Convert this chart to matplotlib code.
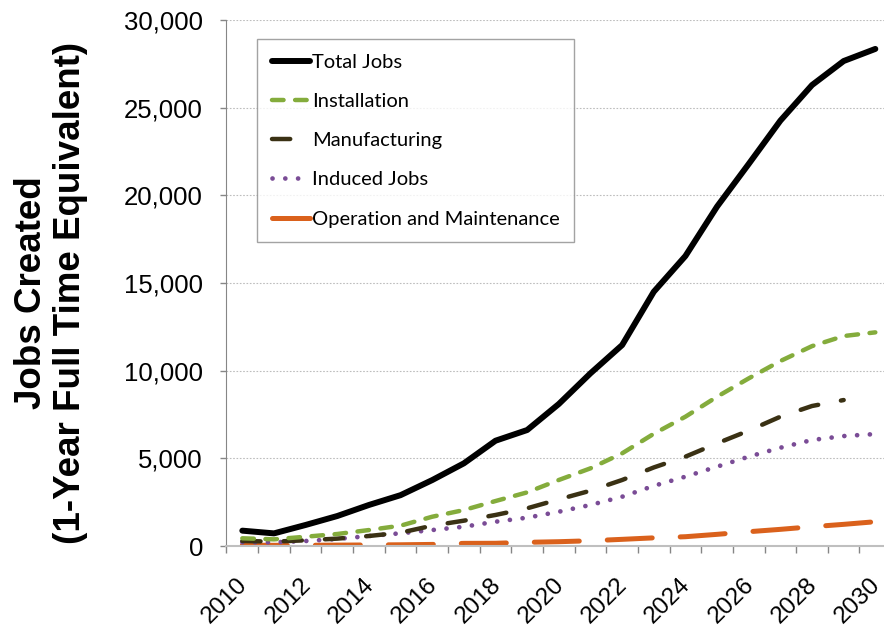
import matplotlib
matplotlib.use("Agg")
import matplotlib.pyplot as plt
import matplotlib.transforms as mtransforms
from matplotlib.ticker import FuncFormatter, FixedLocator
import numpy as np

years = list(range(2010, 2031))

total_jobs = [875, 720, 1200, 1710, 2340, 2900, 3760, 4715, 6005, 6615, 8100,
              9850, 11460, 14500, 16540, 19360, 21790, 24260, 26290, 27660, 28350]
installation = [440, 380, 530, 685, 910, 1160, 1670, 2050, 2565, 3060, 3765,
                4430, 5285, 6400, 7375, 8515, 9560, 10550, 11400, 11975, 12185]
# no manufacturing figure for 2030
manufacturing = [285, 250, 325, 420, 570, 760, 1160, 1445, 1770, 2150, 2660,
                 3155, 3765, 4480, 5095, 5855, 6580, 7375, 7985, 8325]
induced_jobs = [210, 210, 285, 400, 570, 725, 910, 1100, 1385, 1615, 1955,
                2340, 2810, 3430, 3955, 4525, 5095, 5605, 6045, 6270, 6385]
operation_maintenance = [40, 40, 40, 50, 60, 70, 90, 150, 155, 210, 245,
                         300, 380, 465, 530, 665, 815, 950, 1100, 1235, 1385]

series_names = ["Total Jobs", "Installation", "Manufacturing", "Induced Jobs",
                "Operation and Maintenance"]

fig = plt.figure(figsize=(8.84, 6.33), dpi=100)
W, H = 884, 633
left_px, right_px, top_px, bottom_px = 226.5, 226.5 + 21 * 31.65, 20, 546
ax = fig.add_axes([left_px / W, 1 - bottom_px / H,
                   (right_px - left_px) / W, (bottom_px - top_px) / H])

x = np.arange(len(years))

ax.plot(x, total_jobs, color="black", lw=4.3, solid_capstyle="round",
        solid_joinstyle="round", label=series_names[0], zorder=5)
ax.plot(x, installation, color="#84AC3C", lw=3.2, dashes=(2.6, 2.6),
        dash_capstyle="round", label=series_names[1], zorder=4)
ax.plot(x[:len(manufacturing)], manufacturing, color="#3A3114", lw=3.2,
        dashes=(4.1, 5.2), dash_capstyle="round", label=series_names[2], zorder=3)
ax.plot(x, induced_jobs, color="#7A4C96", lw=3.4, dashes=(0.01, 2.7),
        dash_capstyle="round", label=series_names[3], zorder=2)
ax.plot(x, operation_maintenance, color="#DA611C", lw=3.6, dashes=(9, 5.6),
        dash_capstyle="round", label=series_names[4], zorder=1)

ax.set_xlim(-0.5, len(years) - 0.5)
ax.set_ylim(0, 30000)
ax.set_yticks(np.arange(0, 30001, 5000))
ax.yaxis.set_major_formatter(FuncFormatter(lambda v, p: "{:,.0f}".format(v)))
ax.yaxis.grid(True, color="#BDBDBD", linestyle=(0, (1.5, 1.5)), lw=0.8)
ax.set_axisbelow(True)

# category boundaries get tick marks, even years get labels
ax.xaxis.set_major_locator(FixedLocator(x[::2]))
ax.xaxis.set_minor_locator(FixedLocator(np.arange(-0.5, len(years), 1.0)))
ax.set_xticklabels([str(y) for y in years[::2]], rotation=45, ha="right",
                   va="top", rotation_mode="anchor",
                   fontsize=17.5, family="Liberation Sans")
ax.tick_params(axis="x", which="major", length=0, pad=19)
ax.tick_params(axis="x", which="minor", length=5, color="#868686", width=1)
ax.tick_params(axis="y", length=4, color="#868686", width=1, pad=13,
               labelsize=18.5)
for lab in ax.get_yticklabels():
    lab.set_family("Liberation Sans")

# nudge the rotated year labels left so they end under their category
shift = mtransforms.ScaledTranslation(-6 / 100, -1 / 100, fig.dpi_scale_trans)
for lab in ax.get_xticklabels():
    lab.set_transform(lab.get_transform() + shift)

for side in ["top", "right"]:
    ax.spines[side].set_visible(False)
ax.spines["left"].set_color("#868686")
ax.spines["bottom"].set_color("#BFBFBF")
ax.spines["bottom"].set_linewidth(1.5)

fig.text(51 / W, 0.538, "Jobs Created\n(1-Year Full Time Equivalent)",
         rotation=90, ha="center", va="center", fontsize=26.5,
         fontweight="bold", family="Liberation Sans", linespacing=1.15)

leg = ax.legend(loc="upper left", bbox_to_anchor=((257 - left_px) / (right_px - left_px),
                                                  (bottom_px - 39) / (bottom_px - top_px)),
                prop={"family": "Lato", "size": 14.5}, frameon=True, fancybox=False,
                edgecolor="#8C8C8C", handlelength=1.9, handletextpad=0.1,
                labelspacing=1.1, borderpad=0.72, borderaxespad=0)
leg.get_frame().set_linewidth(1)

fig.savefig("out.png", dpi=100)
